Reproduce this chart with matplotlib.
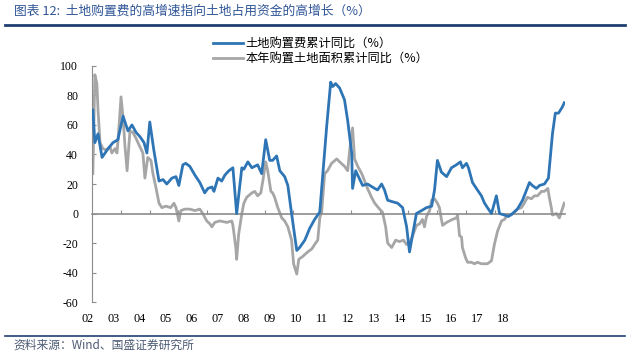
import matplotlib
matplotlib.use('Agg')
import matplotlib.pyplot as plt
import matplotlib.transforms as mtransforms
from matplotlib.lines import Line2D

plt.rcParams['font.family'] = ['Noto Sans CJK SC', 'DejaVu Sans']
plt.rcParams['axes.unicode_minus'] = False

# ==========================================================
# DATA (x in decimal years)
# ==========================================================

fee_x = [
    2002.03, 2002.10, 2002.21, 2002.35, 2002.56, 2002.73, 2002.90, 2003.08,
    2003.25, 2003.39, 2003.53, 2003.67, 2003.81, 2003.91, 2004.01, 2004.15,
    2004.33, 2004.47, 2004.60, 2004.78, 2004.92, 2005.02, 2005.16, 2005.26,
    2005.40, 2005.58, 2005.75, 2005.92, 2006.03, 2006.17, 2006.24, 2006.38,
    2006.51, 2006.62, 2006.76, 2006.90, 2007.03, 2007.21, 2007.28, 2007.42,
    2007.56, 2007.66, 2007.76, 2007.90, 2008.04, 2008.18, 2008.28, 2008.42,
    2008.53, 2008.70, 2008.81, 2008.94, 2009.12, 2009.22, 2009.40, 2009.57,
    2009.74, 2009.92, 2010.16, 2010.30, 2010.37, 2010.47, 2010.61, 2010.78,
    2010.89, 2011.03, 2011.06, 2011.17, 2011.24, 2011.41, 2011.58, 2011.83,
    2011.93, 2012.07, 2012.17, 2012.28, 2012.45, 2012.63, 2012.80, 2012.94,
    2013.04, 2013.15, 2013.28, 2013.46, 2013.63, 2013.81, 2013.91, 2014.01,
    2014.15, 2014.33, 2014.50, 2014.67, 2014.81, 2014.88, 2015.02, 2015.09,
    2015.23, 2015.40, 2015.54, 2015.65, 2015.75, 2015.89, 2016.06, 2016.17,
    2016.34, 2016.48, 2016.62, 2016.79, 2016.97, 2017.21, 2017.31, 2017.45,
    2017.56, 2017.73, 2017.87, 2018.01, 2018.11, 2018.22, 2018.35, 2018.42,
]
fee_yoy = [
    70, 48, 54, 38, 44, 48, 50, 66,
    56, 60, 55, 52, 48, 41, 62, 43,
    22, 23, 20, 24, 25, 19, 33, 34,
    32, 26, 21, 14, 17, 18, 15, 24,
    22, 26, 29, 31, 0, 31, 30, 35,
    31, 32, 33, 27, 50, 36, 36, 39,
    29, 25, 19, 0, -25, -23, -18, -10,
    -4, 1, 59, 89, 86, 88, 85, 77,
    63, 41, 17, 29, 26, 19, 20, 17,
    16, 20, 16, 9, 8, 7, 4, -9,
    -26, -14, 0, 2, 4, 5, 16, 36,
    28, 25, 31, 33, 35, 31, 34, 31,
    21, 16, 12, 7, 4, 0, 12, 0,
    -1, -2, 0, 3, 9, 21, 19, 17,
    19, 20, 24, 54, 68, 68, 72, 75,
]

area_x = [
    2002.03, 2002.10, 2002.17, 2002.21, 2002.28, 2002.38, 2002.49, 2002.63,
    2002.69, 2002.80, 2002.87, 2002.94, 2003.01, 2003.08, 2003.15, 2003.22,
    2003.32, 2003.42, 2003.53, 2003.67, 2003.77, 2003.84, 2003.94, 2004.05,
    2004.12, 2004.22, 2004.33, 2004.43, 2004.57, 2004.74, 2004.85, 2004.92,
    2005.02, 2005.09, 2005.23, 2005.40, 2005.58, 2005.75, 2005.85, 2005.99,
    2006.10, 2006.17, 2006.27, 2006.44, 2006.69, 2006.86, 2006.90, 2007.00,
    2007.03, 2007.10, 2007.21, 2007.28, 2007.38, 2007.56, 2007.66, 2007.76,
    2007.87, 2007.94, 2008.04, 2008.11, 2008.22, 2008.28, 2008.35, 2008.46,
    2008.60, 2008.70, 2008.81, 2008.94, 2009.01, 2009.12, 2009.19, 2009.33,
    2009.50, 2009.64, 2009.74, 2009.85, 2009.92, 2009.99, 2010.09, 2010.19,
    2010.33, 2010.51, 2010.61, 2010.78, 2010.89, 2010.96, 2011.06, 2011.13,
    2011.24, 2011.38, 2011.48, 2011.58, 2011.72, 2011.83, 2012.00, 2012.10,
    2012.21, 2012.28, 2012.42, 2012.56, 2012.69, 2012.83, 2012.94, 2013.04,
    2013.15, 2013.28, 2013.39, 2013.49, 2013.56, 2013.63, 2013.74, 2013.81,
    2013.91, 2014.01, 2014.08, 2014.15, 2014.19, 2014.33, 2014.43, 2014.53,
    2014.67, 2014.71, 2014.78, 2014.85, 2014.88, 2014.99, 2015.06, 2015.19,
    2015.30, 2015.40, 2015.54, 2015.65, 2015.75, 2015.89, 2015.99, 2016.10,
    2016.24, 2016.34, 2016.44, 2016.58, 2016.69, 2016.79, 2016.93, 2017.03,
    2017.14, 2017.28, 2017.38, 2017.49, 2017.63, 2017.73, 2017.85, 2017.90,
    2017.97, 2018.01, 2018.15, 2018.25, 2018.35, 2018.42,
]
area_yoy = [
    27, 94, 88, 70, 48, 44, 43, 45,
    41, 44, 41, 59, 79, 65, 45, 29,
    56, 55, 51, 45, 41, 24, 38, 36,
    27, 18, 7, 4, 5, 4, 7, 4,
    -5, 2, 3, 3, 2, 3, 0, -5,
    -7, -9, -6, -5, -6, -5, -8, -23,
    -31, -14, 0, 7, 11, 14, 15, 12,
    14, 22, 35, 29, 15, 14, 11, 4,
    -3, -5, -9, -18, -34, -41, -31, -29,
    -26, -24, -21, -18, -3, 2, 27, 29,
    34, 37, 35, 32, 29, 43, 58, 37,
    32, 27, 22, 17, 11, 7, 3, 1,
    -9, -20, -23, -18, -19, -18, -21, -20,
    -15, -8, -7, -4, -9, -2, 2, 9,
    10, 7, 4, -4, -8, -6, -5, -4,
    -3, -1, -15, -16, -23, -30, -33, -33,
    -34, -33, -34, -34, -34, -32, -21, -12,
    -5, -4, -1, -1, 1, 3, 4, 7,
    11, 10, 12, 12, 15, 15, 17, 11,
    4, -1, 0, -3, 3, 7,
]

year_labels = ['02', '03', '04', '05', '06', '07', '08', '09', '10',
               '11', '12', '13', '14', '15', '16', '17', '18']
year_ticks = list(range(2003, 2019))

# ==========================================================
# FIGURE
# ==========================================================

fig = plt.figure(figsize=(6.3, 3.58), dpi=100)
ax = fig.add_axes([0.146, 0.156, 0.751, 0.660])

ax.plot(area_x, area_yoy, color='#a6a6a6', linewidth=2.0,
        label='本年购置土地面积累计同比（%）', zorder=2)
ax.plot(fee_x, fee_yoy, color='#2e75b6', linewidth=2.0,
        label='土地购置费累计同比（%）', zorder=3)

ax.set_xlim(2002.0, 2018.45)
ax.set_ylim(-60, 100)
ax.set_yticks(range(-60, 101, 20))

for side in ['top', 'right']:
    ax.spines[side].set_visible(False)
ax.spines['left'].set_color('#8c8c8c')
ax.spines['bottom'].set_color('#8c8c8c')
ax.spines['bottom'].set_position(('data', 0))
ax.spines['bottom'].set_linewidth(1.2)

ax.set_xticks(year_ticks)
ax.set_xticklabels([])
ax.tick_params(axis='x', direction='in', length=3, color='#8c8c8c')
ax.tick_params(axis='y', direction='in', length=3, color='#8c8c8c',
               labelsize=8.5, pad=10)
for lab in ax.get_yticklabels():
    lab.set_fontfamily('Liberation Serif')

# year labels sit below the plot, spaced as in the source
trans = mtransforms.blended_transform_factory(ax.transData, ax.transAxes)
for i, lab in enumerate(year_labels):
    ax.text(2001.86 + 0.903 * i, -0.07, lab, transform=trans,
            ha='center', va='center', fontsize=8.8,
            fontfamily='Liberation Serif', clip_on=False)

handles, labels = ax.get_legend_handles_labels()
fig.legend(handles[::-1], labels[::-1], loc='upper left',
           bbox_to_anchor=(0.33, 0.91), frameon=False, fontsize=8.8,
           handlelength=2.5, handletextpad=0.2, labelspacing=0.15,
           borderaxespad=0)

# title, source and rules
fig.text(0.022, 0.968, '图表 12:  土地购置费的高增速指向土地占用资金的高增长（%）',
         fontsize=9.2, color='#2f5597', va='center')
fig.add_artist(Line2D([0.008, 0.992], [0.93, 0.93], color='#1f3f73',
                      linewidth=2.0))
fig.add_artist(Line2D([0.008, 0.992], [0.062, 0.062], color='#1f3f73',
                      linewidth=1.2))
fig.text(0.022, 0.035, '资料来源：Wind、国盛证券研究所', fontsize=8.5,
         color='#4d5b73', va='center')

fig.savefig('out.png', dpi=100)
